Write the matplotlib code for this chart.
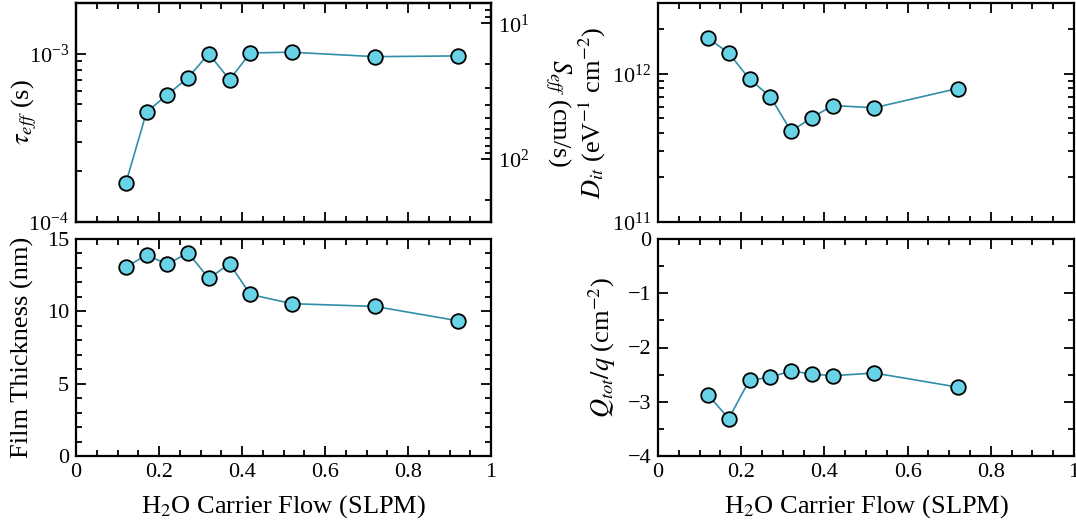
import numpy as np
import matplotlib
matplotlib.use('Agg')
import matplotlib.pyplot as plt
from matplotlib.ticker import MultipleLocator, NullFormatter

plt.rcParams['font.family'] = ['Liberation Serif', 'DejaVu Serif']
plt.rcParams['mathtext.fontset'] = 'stix'
plt.rcParams['axes.linewidth'] = 1.6

# H2O carrier flow (SLPM)
flow = [0.12, 0.17, 0.22, 0.27, 0.32, 0.37, 0.42, 0.52, 0.72, 0.92]
# effective lifetime (s)
tau_eff = [1.7e-4, 4.5e-4, 5.7e-4, 7.2e-4, 1.0e-3, 7.0e-4, 1.01e-3, 1.02e-3, 9.6e-4, 9.7e-4]
# film thickness (nm)
thickness = [13.05, 13.9, 13.25, 14.05, 12.28, 13.29, 11.17, 10.53, 10.34, 9.35]

# Dit and Qtot only measured up to 0.72 SLPM
flow_cv = [0.12, 0.17, 0.22, 0.27, 0.32, 0.37, 0.42, 0.52, 0.72]
dit = [1.74e12, 1.38e12, 9.2e11, 7.0e11, 4.1e11, 5.06e11, 6.1e11, 5.9e11, 7.95e11]
qtot = [-2.87, -3.31, -2.60, -2.55, -2.43, -2.49, -2.52, -2.47, -2.73]

face = '#68d3e6'
line = '#2f8fa8'
tick_fs = 16
label_fs = 19

fig = plt.figure(figsize=(10.76, 5.29), dpi=100)
W, H = 1076.0, 529.0


def make_ax(x0, y0, x1, y1):
    return fig.add_axes([x0 / W, 1 - y1 / H, (x1 - x0) / W, (y1 - y0) / H])


ax_tau = make_ax(76, 3, 491, 222)
ax_th = make_ax(76, 239, 491, 456)
ax_dit = make_ax(658, 3, 1074, 222)
ax_q = make_ax(658, 239, 1074, 456)


def style(ax, right=True):
    ax.tick_params(which='both', direction='in', top=True, right=right,
                   labelsize=tick_fs, width=1.3, pad=5)
    ax.tick_params(which='major', length=7)
    ax.tick_params(which='minor', length=4)
    ax.set_xlim(0, 1)
    ax.xaxis.set_major_locator(MultipleLocator(0.2))
    ax.xaxis.set_minor_locator(MultipleLocator(0.05))
    ax.xaxis.set_major_formatter(matplotlib.ticker.FuncFormatter(
        lambda v, p: '%g' % round(v, 2)))


def plot_series(ax, x, y):
    ax.plot(x, y, '-', color=line, lw=1.2, zorder=2)
    ax.plot(x, y, 'o', ms=10.5, mfc=face, mec='black', mew=1.3, zorder=3)


# lifetime
style(ax_tau, right=False)
plot_series(ax_tau, flow, tau_eff)
ax_tau.set_yscale('log')
ax_tau.set_ylim(1e-4, 2.0e-3)
ax_tau.yaxis.set_minor_formatter(NullFormatter())
ax_tau.tick_params(labelbottom=False)
ax_tau.set_ylabel(r'$\tau_{eff}$ (s)', fontsize=label_fs)
ax_tau.yaxis.set_label_coords(-0.09, 0.5)

ax_s = ax_tau.twinx()
ax_s.set_yscale('log')
ax_s.set_ylim(290, 7.1)
ax_s.tick_params(which='both', direction='in', labelsize=tick_fs, width=1.3, pad=5)
ax_s.tick_params(which='major', length=7)
ax_s.tick_params(which='minor', length=4)
ax_s.yaxis.set_minor_formatter(NullFormatter())
ax_s.set_ylabel(r'$S_{eff}$ (cm/s)', fontsize=label_fs, rotation=270, va='bottom')
ax_s.yaxis.set_label_coords(1.125, 0.5)

# thickness
style(ax_th)
plot_series(ax_th, flow, thickness)
ax_th.set_ylim(0, 15)
ax_th.yaxis.set_major_locator(MultipleLocator(5))
ax_th.yaxis.set_minor_locator(MultipleLocator(1))
ax_th.set_ylabel('Film Thickness (nm)', fontsize=label_fs)
ax_th.yaxis.set_label_coords(-0.10, 0.5)
ax_th.set_xlabel(r'H$_2$O Carrier Flow (SLPM)', fontsize=label_fs, labelpad=8)

# Dit
style(ax_dit)
plot_series(ax_dit, flow_cv, dit)
ax_dit.set_yscale('log')
ax_dit.set_ylim(1e11, 3e12)
ax_dit.yaxis.set_minor_formatter(NullFormatter())
ax_dit.tick_params(labelbottom=False)
ax_dit.set_ylabel(r'$D_{it}$ (eV$^{-1}$ cm$^{-2}$)', fontsize=label_fs)
ax_dit.yaxis.set_label_coords(-0.12, 0.5)

# Qtot
style(ax_q)
plot_series(ax_q, flow_cv, qtot)
ax_q.set_ylim(-4, 0)
ax_q.yaxis.set_major_locator(MultipleLocator(1))
ax_q.yaxis.set_minor_locator(MultipleLocator(0.5))
ax_q.set_ylabel(r'$Q_{tot}/q$ (cm$^{-2}$)', fontsize=label_fs)
ax_q.yaxis.set_label_coords(-0.095, 0.5)
ax_q.set_xlabel(r'H$_2$O Carrier Flow (SLPM)', fontsize=label_fs, labelpad=8)

fig.savefig('out.png', dpi=100)
